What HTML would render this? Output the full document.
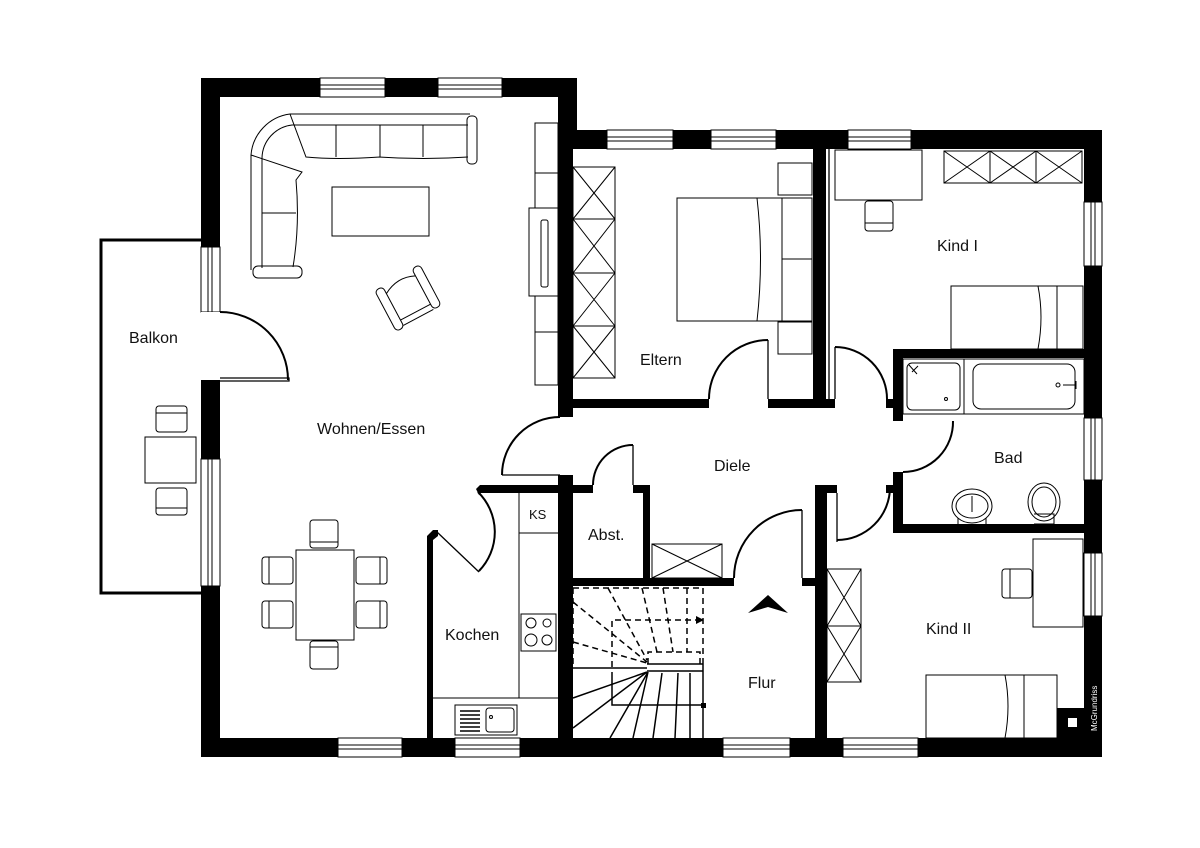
<!DOCTYPE html>
<html><head><meta charset="utf-8"><style>html,body{margin:0;padding:0;background:#fff}svg{display:block}text{font-family:"Liberation Sans",sans-serif;fill:#111}</style></head><body>
<svg width="1200" height="848" viewBox="0 0 1200 848" xmlns="http://www.w3.org/2000/svg">
<rect width="1200" height="848" fill="#fff"/>
<path d="M201,240 H101 V593 H201" fill="none" stroke="#000" stroke-width="3"/>
<g fill="#000">
<rect x="201" y="78" width="376" height="19"/>
<rect x="201" y="78" width="19" height="679"/>
<rect x="201" y="738" width="901" height="19"/>
<rect x="1084" y="130" width="18" height="627"/>
<rect x="558" y="130" width="544" height="19"/>
<rect x="558" y="78" width="19" height="71"/>
<rect x="558" y="130" width="15" height="287"/>
<rect x="558" y="399" width="151" height="9"/>
<rect x="768" y="399" width="67" height="9"/>
<rect x="813" y="149" width="13" height="259"/>
<rect x="886" y="399" width="8" height="9"/>
<rect x="893" y="349" width="10" height="72"/>
<rect x="893" y="472" width="10" height="61"/>
<rect x="893" y="349" width="191" height="9"/>
<rect x="893" y="524" width="191" height="9"/>
<rect x="815" y="485" width="22" height="8"/>
<rect x="886" y="485" width="8" height="8"/>
<rect x="815" y="485" width="12" height="253"/>
<rect x="573" y="578" width="161" height="8"/>
<rect x="802" y="578" width="13" height="8"/>
<rect x="643" y="485" width="7" height="93"/>
<rect x="573" y="485" width="20" height="8"/>
<rect x="633" y="485" width="17" height="8"/>
<rect x="558" y="475" width="15" height="263"/>
<polygon points="476,489 480,485 558,485 558,493 481,493 479,495"/>
<polygon points="427,536 433,530 438,530 438,536 433,540 433,738 427,738"/>
<rect x="1057" y="708" width="27" height="30"/>
</g>
<rect x="1068" y="718" width="9" height="9" fill="#fff"/>
<text x="1097" y="731" font-size="8" fill="#fff" style="fill:#fff" transform="rotate(-90 1097 731)">McGrundriss</text>
<g fill="#fff" stroke="#000" stroke-width="1">
<rect x="320" y="78" width="65" height="19"/><rect x="438" y="78" width="64" height="19"/>
<rect x="607" y="130" width="66" height="19"/><rect x="711" y="130" width="65" height="19"/><rect x="848" y="130" width="63" height="19"/>
<rect x="338" y="738" width="64" height="19"/><rect x="455" y="738" width="65" height="19"/><rect x="723" y="738" width="67" height="19"/><rect x="843" y="738" width="75" height="19"/>
<rect x="201" y="247" width="19" height="65"/><rect x="201" y="459" width="19" height="127"/>
<rect x="1084" y="202" width="18" height="64"/><rect x="1084" y="418" width="18" height="62"/><rect x="1084" y="553" width="18" height="63"/>
</g>
<g stroke="#000" stroke-width="1">
<path d="M320,85H385M320,89H385M438,85H502M438,89H502M607,137H673M607,141H673M711,137H776M711,141H776M848,137H911M848,141H911M338,745H402M338,749H402M455,745H520M455,749H520M723,745H790M723,749H790M843,745H918M843,749H918"/>
<path d="M208,247V312M212,247V312M208,459V586M212,459V586M1091,202V266M1095,202V266M1091,418V480M1095,418V480M1091,553V616M1095,553V616"/>
</g>
<rect x="201" y="312" width="19" height="68" fill="#fff"/>
<g fill="none" stroke="#000" stroke-width="2">
<path d="M220,312 A68,68 0 0 1 288,380"/>
<path d="M560,417 A58,58 0 0 0 502,475"/>
<path d="M593,485 A40,40 0 0 1 633,445"/>
<path d="M734,578 A68,68 0 0 1 802,510"/>
<path d="M709,399 A59,59 0 0 1 768,340"/>
<path d="M835,347 A52,52 0 0 1 887,399"/>
<path d="M953,421 A50,50 0 0 1 903,472"/>
<path d="M890,487 A53,53 0 0 1 837,540"/>
<path d="M478,492 A56,56 0 0 1 479,571"/>
</g>
<g stroke="#000" stroke-width="1.3" fill="none">
<path d="M220,378H289V381H220"/>
<path d="M502,475H560"/>
<path d="M633,445V485"/>
<path d="M802,510V578"/>
<path d="M768,340V399"/>
<path d="M835,347V399"/>
<path d="M837,493V542"/>
<path d="M437,532L479,572"/>
<path d="M829,149V399"/>
</g>
<g fill="none" stroke="#000" stroke-width="1">
<path d="M251,270V155A45,45 0 0 1 290,114H470"/>
<path d="M262,268V158A34,34 0 0 1 292,125H468"/>
<path d="M290,114L306,157Q336,160 380,157Q423,160 468,157"/>
<path d="M336,125V157M380,125V157M423,125V157"/>
<path d="M251,155L302,172L296,180Q300,225 293,267"/>
<path d="M262,213H296"/>
<rect x="253" y="266" width="49" height="12" rx="5"/>
<rect x="467" y="116" width="10" height="48" rx="4"/>
<rect x="332" y="187" width="97" height="49"/>
<g transform="translate(408,298) rotate(-28)">
<rect x="-26" y="-22" width="9" height="46" rx="4"/>
<rect x="17" y="-24" width="9" height="46" rx="4"/>
<path d="M-17,-14 Q0,-24 17,-16"/>
<path d="M-17,16H17M-17,22H17"/>
</g>
<rect x="535" y="123" width="23" height="262"/>
<path d="M535,173H558M535,332H558"/>
<rect x="529" y="208" width="29" height="88" fill="#fff"/>
<rect x="541" y="220" width="7" height="67" rx="2"/>
<rect x="296" y="550" width="58" height="90"/>
<rect x="310" y="520" width="28" height="28" rx="3"/><path d="M310,542H338"/>
<rect x="310" y="641" width="28" height="28" rx="3"/><path d="M310,647H338"/>
<rect x="262" y="557" width="31" height="27" rx="3"/><path d="M269,557V584"/>
<rect x="262" y="601" width="31" height="27" rx="3"/><path d="M269,601V628"/>
<rect x="356" y="557" width="31" height="27" rx="3"/><path d="M380,557V584"/>
<rect x="356" y="601" width="31" height="27" rx="3"/><path d="M380,601V628"/>
<rect x="145" y="437" width="51" height="46"/>
<rect x="156" y="406" width="31" height="26" rx="3"/><path d="M156,413H187"/>
<rect x="156" y="488" width="31" height="27" rx="3"/><path d="M156,508H187"/>
<rect x="573" y="167" width="42" height="211"/>
<path d="M573,219H615M573,273H615M573,326H615M573,167L615,219M615,167L573,219M573,219L615,273M615,219L573,273M573,273L615,326M615,273L573,326M573,326L615,378M615,326L573,378"/>
<rect x="677" y="198" width="135" height="123"/>
<path d="M757,198Q764,259 757,321M782,198V321M782,259H812"/>
<rect x="778" y="163" width="34" height="32"/><rect x="778" y="322" width="34" height="32"/>
<rect x="835" y="150" width="87" height="50"/>
<rect x="865" y="201" width="28" height="30" rx="3"/><path d="M865,223H893"/>
<rect x="944" y="151" width="138" height="32"/>
<path d="M990,151V183M1036,151V183M944,151L990,183M990,151L944,183M990,151L1036,183M1036,151L990,183M1036,151L1082,183M1082,151L1036,183"/>
<rect x="951" y="286" width="132" height="63"/>
<path d="M1038,286Q1044,317 1038,349M1057,286V349"/>
<rect x="903" y="359" width="61" height="55"/><rect x="907" y="363" width="53" height="47" rx="5"/>
<rect x="964" y="359" width="120" height="55"/><rect x="973" y="364" width="102" height="45" rx="8"/>
<circle cx="946" cy="399" r="1.5"/><path d="M909,365L917,374M912,372L918,366"/>
<circle cx="1058" cy="385" r="2"/><path d="M1063,385H1076M1076,381V389"/>
<ellipse cx="972" cy="506" rx="20" ry="17"/><ellipse cx="972" cy="506" rx="16" ry="12"/><path d="M958,518V524M986,518V524M972,496V512"/>
<ellipse cx="1044" cy="502" rx="16" ry="19"/><ellipse cx="1044" cy="502" rx="12" ry="15"/><path d="M1034,514H1054V524H1034"/>
<rect x="652" y="544" width="70" height="34"/><path d="M652,544L722,578M722,544L652,578"/>
<path d="M519,493V698H433M558,698H433M519,533H558"/>
<rect x="521" y="614" width="35" height="37"/>
<circle cx="531" cy="623" r="5"/><circle cx="547" cy="623" r="4"/><circle cx="531" cy="640" r="6"/><circle cx="547" cy="640" r="5"/>
<rect x="455" y="705" width="62" height="30"/><rect x="486" y="708" width="28" height="24" rx="3"/><circle cx="491" cy="717" r="1.5"/>
<path d="M460,711H480M460,715H480M460,719H480M460,723H480M460,727H480M460,731H480" stroke-width="1.5"/>
<rect x="827" y="569" width="34" height="113"/>
<path d="M827,626H861M827,569L861,626M861,569L827,626M827,626L861,682M861,626L827,682"/>
<rect x="1033" y="539" width="50" height="88"/>
<rect x="1002" y="569" width="30" height="29" rx="3"/><path d="M1010,569V598"/>
<rect x="926" y="675" width="131" height="63"/>
<path d="M1005,675Q1011,706 1005,738M1024,675V738"/>
</g>
<g fill="none" stroke="#000" stroke-width="1.5" stroke-dasharray="6,4">
<path d="M573,588H703V667M573,588V667"/>
<path d="M573,602L647,662M573,642L647,663M608,588L647,660M642,588L657,652M663,588L673,652M687,588V652"/>
<path d="M612,667V620H700"/>
<path d="M648,664V652H700V664"/>
</g>
<polygon points="696,616 704,620 696,624" fill="#000"/>
<g fill="none" stroke="#000" stroke-width="1.5">
<path d="M573,668H647M647,664H703M647,671H703"/>
<path d="M647,672L573,698M647,672L573,728M648,672L610,738M648,672L633,738M662,673L653,738M678,673L675,738M690,673V738M703,664V738"/>
<path d="M612,672V705H703"/>
</g>
<rect x="701" y="703" width="5" height="5" fill="#000"/>
<polygon points="768,595 788,613 768,607 748,613" fill="#000"/>
<g font-size="16">
<text x="129" y="343">Balkon</text>
<text x="317" y="434">Wohnen/Essen</text>
<text x="640" y="365">Eltern</text>
<text x="937" y="251">Kind I</text>
<text x="994" y="463">Bad</text>
<text x="714" y="471">Diele</text>
<text x="588" y="540">Abst.</text>
<text x="445" y="640">Kochen</text>
<text x="748" y="688">Flur</text>
<text x="926" y="634">Kind II</text>
</g>
<text x="529" y="519" font-size="13">KS</text>
</svg>
</body></html>
